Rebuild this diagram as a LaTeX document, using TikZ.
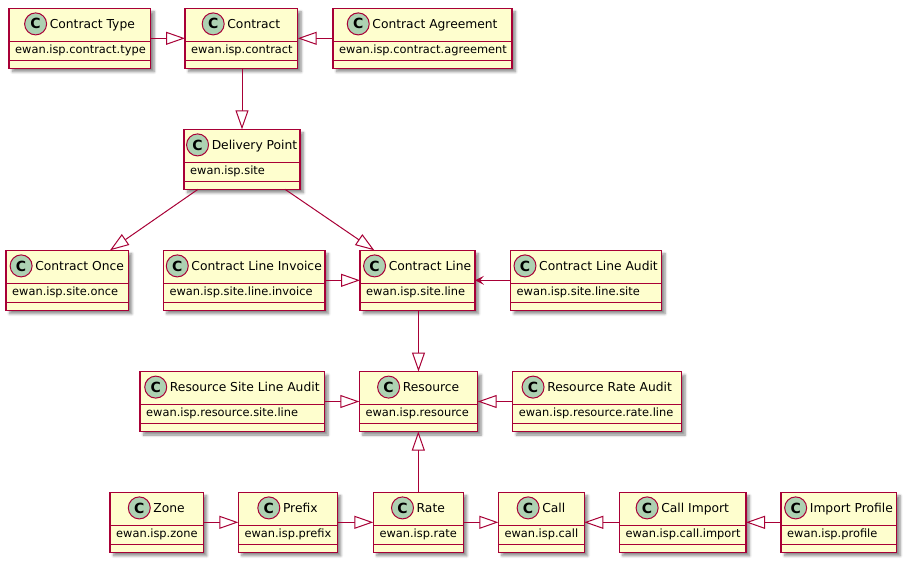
\documentclass[tikz,border=0pt]{standalone}
\usepackage{fontspec}
\setmainfont{DejaVu Sans}
\usetikzlibrary{arrows.meta,calc,shadows.blur}
\definecolor{umlred}{HTML}{A80036}
\definecolor{clsfill}{HTML}{FEFECE}
\definecolor{iconfill}{HTML}{ADD1B2}
\tikzset{
  clsbox/.style={draw=umlred, fill=clsfill, line width=1.5pt, inner sep=0pt, outer sep=0pt,
    minimum height=60pt, rectangle,
    blur shadow={shadow xshift=3.5pt, shadow yshift=-3.5pt, shadow blur steps=6, shadow blur radius=2.5pt, shadow opacity=45}},
  clsline/.style={draw=umlred, line width=1.5pt},
  clsname/.style={inner sep=0pt, font=\fontsize{12.3}{14}\selectfont, text height=9pt, text depth=2.5pt},
  clsattr/.style={inner sep=0pt, anchor=west, font=\fontsize{11.4}{13}\selectfont, text height=8pt, text depth=2.5pt},
  clsicon/.style={circle, minimum size=22pt, inner sep=0pt, fill=iconfill, draw=umlred, line width=1pt,
    font=\fontsize{14}{14}\selectfont\bfseries},
  gen/.style={draw=umlred, line width=1pt, -{Triangle[length=19pt,width=13pt,fill=white]}},
  assoc/.style={draw=umlred, line width=1pt, -{Stealth[length=9pt,width=9pt,inset=4pt]}}
}
\newcommand{\mkclass}[6]{%
  \pgfmathsetmacro{\mkclsw}{#4-#2}%
  \node[clsbox, minimum width=\mkclsw pt] (#1) at ({(#2+#4)/2},{#3+30}) {};
  \draw[clsline] ($(#1.north west)+(0,33)$) -- ($(#1.north east)+(0,33)$);
  \draw[clsline] ($(#1.north west)+(0,52)$) -- ($(#1.north east)+(0,52)$);
  \node[clsname] (#1-t) at ($(#1.north)+(0,16.8)$) {\hspace{25pt}#5};
  \node[clsicon] (#1-i) at ($(#1-t.west)+(11,-1.2)$) {C};
  \node[clsattr] (#1-a) at ($(#1.north west)+(6,42.5)$) {#6};
}
\begin{document}
\begin{tikzpicture}[x=1pt,y=-1pt]
\useasboundingbox (0,0) rectangle (907,563);
% row 1
\mkclass{ct}{9}{8.3}{150.7}{Contract Type}{ewan.isp.contract.type}
\mkclass{c}{185}{8.3}{297.7}{Contract}{ewan.isp.contract}
\mkclass{ca}{333}{8.3}{512}{Contract Agreement}{ewan.isp.contract.agreement}
% row 2
\mkclass{dp}{184}{129.3}{300}{Delivery Point}{ewan.isp.site}
% row 3
\mkclass{co}{6}{250.3}{128.3}{Contract Once}{ewan.isp.site.once}
\mkclass{cli}{163.3}{250.3}{325}{Contract Line Invoice}{ewan.isp.site.line.invoice}
\mkclass{cl}{360}{250.3}{475}{Contract Line}{ewan.isp.site.line}
\mkclass{cla}{510.5}{250.3}{661.5}{Contract Line Audit}{ewan.isp.site.line.site}
% row 4
\mkclass{rsla}{140}{371.5}{324.5}{Resource Site Line Audit}{ewan.isp.resource.site.line}
\mkclass{res}{359.3}{371.5}{477.7}{Resource}{ewan.isp.resource}
\mkclass{rra}{512.7}{371.5}{681.5}{Resource Rate Audit}{ewan.isp.resource.rate.line}
% row 5
\mkclass{zone}{110}{492.3}{203.3}{Zone}{ewan.isp.zone}
\mkclass{prefix}{238.3}{492.3}{337.3}{Prefix}{ewan.isp.prefix}
\mkclass{rate}{373.3}{492.3}{463.3}{Rate}{ewan.isp.rate}
\mkclass{call}{498.3}{492.3}{584.3}{Call}{ewan.isp.call}
\mkclass{ci}{619.3}{492.3}{746}{Call Import}{ewan.isp.call.import}
\mkclass{ip}{781}{492.3}{896.7}{Import Profile}{ewan.isp.profile}
% connectors
\draw[gen] (ct.east) -- (c.west);
\draw[gen] (ca.west) -- (c.east);
\draw[gen] (dp.north |- c.south) -- (dp.north);
\draw[gen] ($(dp.south west)+(14,0)$) -- ($(co.north west)+(104,0)$);
\draw[gen] ($(dp.south west)+(101,0)$) -- ($(cl.north west)+(14.3,0)$);
\draw[gen] (cli.east) -- (cl.west);
\draw[assoc] (cla.west) -- (cl.east);
\draw[gen] (res.north |- cl.south) -- (res.north);
\draw[gen] (rsla.east) -- (res.west);
\draw[gen] (rra.west) -- (res.east);
\draw[gen] (rate.north) -- (rate.north |- res.south);
\draw[gen] (zone.east) -- (prefix.west);
\draw[gen] (prefix.east) -- (rate.west);
\draw[gen] (rate.east) -- (call.west);
\draw[gen] (ci.west) -- (call.east);
\draw[gen] (ip.west) -- (ci.east);
\end{tikzpicture}
\end{document}
